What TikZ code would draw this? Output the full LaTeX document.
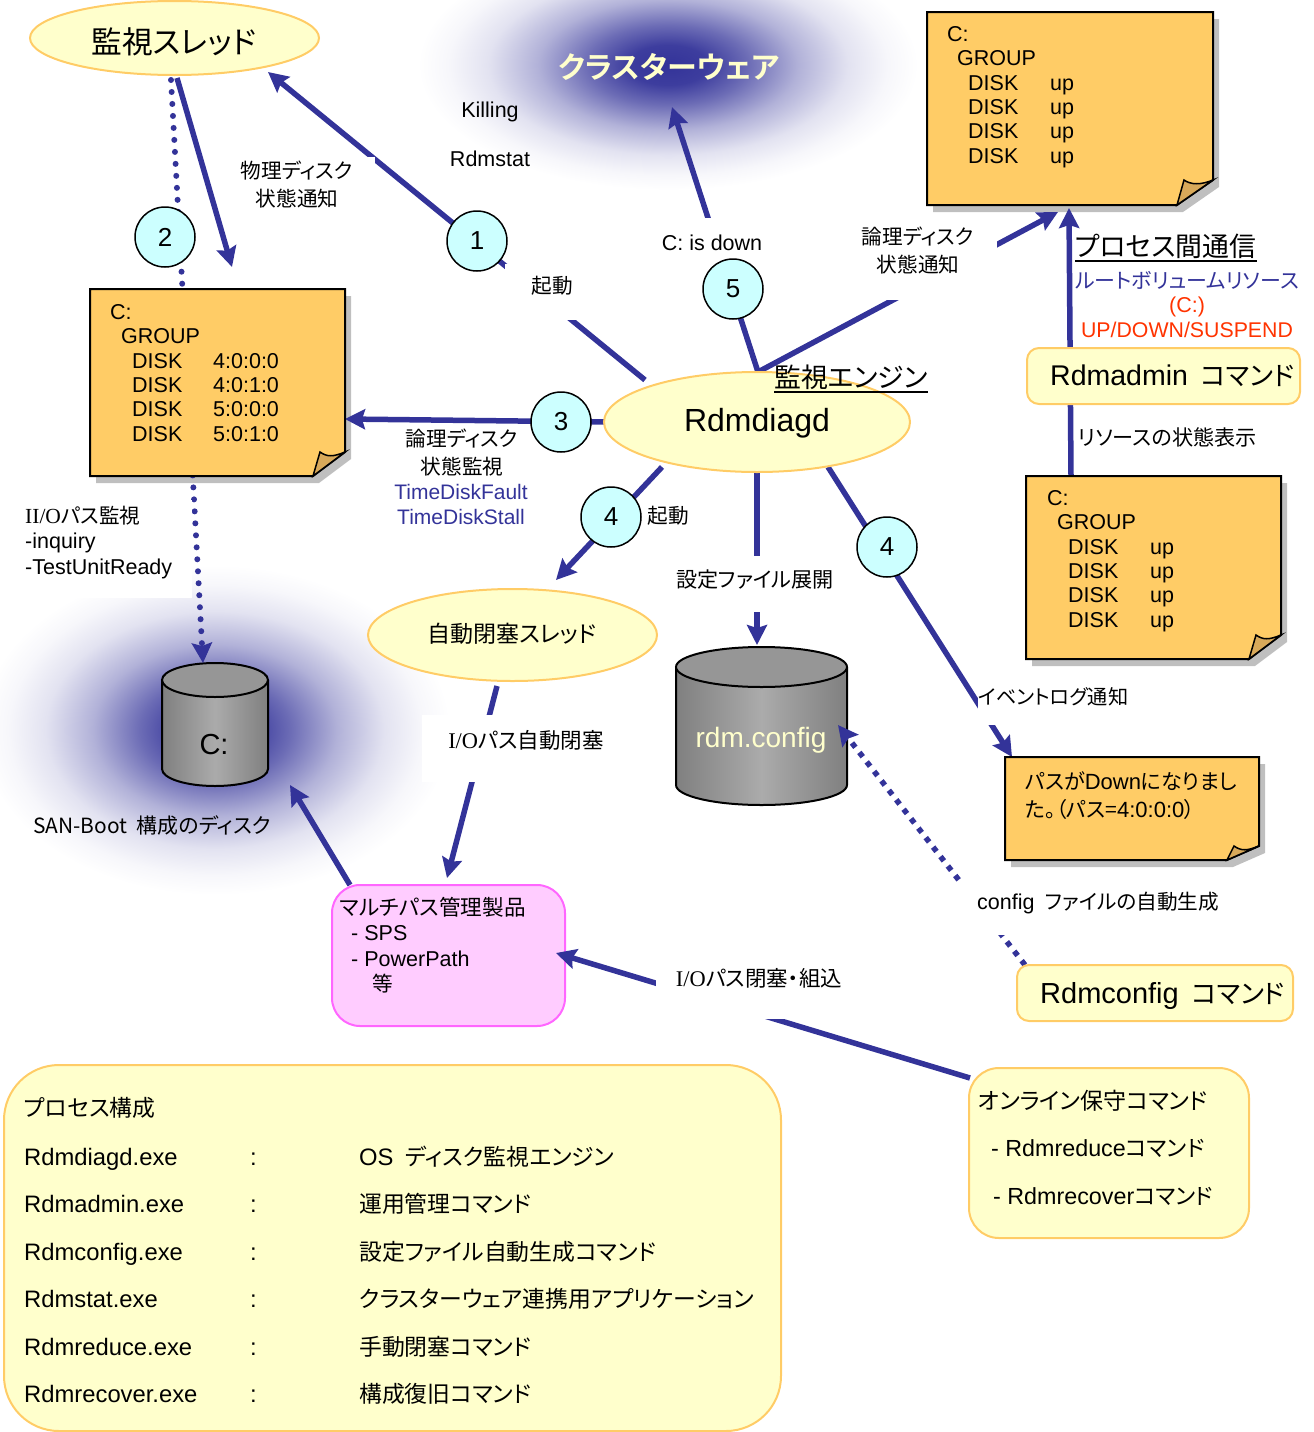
\documentclass[tikz,border=0pt]{standalone}
\usepackage{fontspec}
\setmainfont{Liberation Sans}
\newfontfamily\jp[RawFeature=+palt,Scale=0.96]{Noto Sans CJK JP}
\newfontfamily\jpb[RawFeature=+palt]{Noto Sans CJK JP Bold}
\newfontfamily\ser{Liberation Serif}
\newcommand\J[1]{{\jp #1}}
\newsavebox\ulbox
\newcommand\thickul[1]{\sbox\ulbox{#1}\usebox\ulbox\llap{\rule[-4.8pt]{\wd\ulbox}{2pt}}}
\usetikzlibrary{arrows.meta,shapes.geometric,calc}
\definecolor{arrowblue}{HTML}{333399}
\definecolor{creamfill}{HTML}{FFFFCC}
\definecolor{creamline}{HTML}{FFCC66}
\definecolor{aquafill}{HTML}{CCFFFF}
\definecolor{notefill}{HTML}{FFCC66}
\definecolor{foldfill}{HTML}{D8A95A}
\definecolor{pinkfill}{HTML}{FFCCFF}
\definecolor{pinkline}{HTML}{FF66FF}
\definecolor{redtext}{HTML}{FF3300}
\pgfdeclareradialshading{glowshade}{\pgfpoint{0bp}{0bp}}{
 color(0bp)=(arrowblue); color(4bp)=(arrowblue!95!white); color(8bp)=(arrowblue!72!white);
 color(13bp)=(arrowblue!38!white); color(18bp)=(arrowblue!14!white); color(22bp)=(arrowblue!4!white);
 color(25bp)=(white); color(50bp)=(white)}
\pgfdeclarelayer{glow}\pgfdeclarelayer{conn}\pgfdeclarelayer{cover}
\pgfsetlayers{glow,conn,cover,main}
\tikzset{
 x=1pt,y=-1pt,
 arr/.style={draw=arrowblue,line width=5.5pt,-{Stealth[length=20pt,width=20pt,inset=3pt]}},
 dotarr/.style={draw=arrowblue,line width=6pt,line cap=round,dash pattern=on 0pt off 12pt,-{Stealth[length=20pt,width=20pt,inset=3pt]}},
 sqarr/.style={draw=arrowblue,line width=5.5pt,dash pattern=on 5.5pt off 6.5pt,-{Stealth[length=20pt,width=20pt,inset=3pt]}},
 creamell/.style={ellipse,draw=creamline,fill=creamfill,line width=2pt,inner sep=0pt},
 creambox/.style={rectangle,rounded corners=12pt,draw=creamline,fill=creamfill,line width=2pt,inner sep=0pt},
 numdisc/.style={circle,draw=black,fill=aquafill,line width=1.5pt,minimum size=60pt,inner sep=0pt,font=\fontsize{26}{28}\selectfont},
 lab/.style={inner sep=0pt,align=center,font=\fontsize{21.5}{28}\selectfont},
 llab/.style={inner sep=0pt,anchor=west,align=left,font=\fontsize{21.5}{28}\selectfont},
 notetext/.style={inner sep=0pt,anchor=north west,align=left,font=\fontsize{21.5}{24.4}\selectfont},
 tabrow/.style={inner sep=0pt,anchor=base west,font=\fontsize{23.8}{28}\selectfont},
}
% name, left, top, right, bottom, fold width, fold height
\newcommand\stickynote[7]{
 \begin{pgfonlayer}{glow}
 \fill[black!25] (#2+6,#3+7) -- (#4+6,#3+7) -- (#4+6,#5+7-#7) -- (#4+6-#6,#5+7) -- (#2+6,#5+7) -- cycle;
 \end{pgfonlayer}
 \draw[black,line width=2pt,fill=notefill] (#2,#3) -- (#4,#3) -- (#4,#5-#7) -- (#4-#6,#5) -- (#2,#5) -- cycle;
 \draw[black,line width=1.5pt,fill=foldfill] (#4,#5-#7) .. controls (#4-12,#5-#7+5) and (#4-#6+14,#5-#7+5) .. (#4-#6+7,#5-#7) -- (#4-#6,#5) -- cycle;
 \node[inner sep=0pt,minimum width=#4-#2,minimum height=#5-#3] (#1) at ({(#2+#4)/2},{(#3+#5)/2}) {};
}
% left, top of cylinder; right; bottom; cap half height; name
\newcommand\drum[6]{
 \path[left color=black!50,right color=black!50,middle color=black!33] (#1,#2+#5) -- (#1,#4-#5) arc[start angle=180,end angle=360,x radius={(#3-#1)/2},y radius=-#5] -- (#3,#2+#5) arc[start angle=0,end angle=180,x radius={(#3-#1)/2},y radius=-#5] -- cycle;
 \draw[black,line width=2pt] (#1,#2+#5) -- (#1,#4-#5) arc[start angle=180,end angle=360,x radius={(#3-#1)/2},y radius=-#5] -- (#3,#2+#5);
 \draw[black,line width=2pt,fill=black!41] ({(#1+#3)/2},#2+#5) ellipse[x radius={(#3-#1)/2},y radius=#5];
 \coordinate (#6) at ({(#1+#3)/2},{(#2+#4)/2});
}
\begin{document}
\begin{tikzpicture}
\useasboundingbox (0,0) rectangle (1314,1432);
\clip (0,0) rectangle (1314,1432);
% glows, and the shapes that arrowheads lie upon
\begin{pgfonlayer}{glow}
 \shade[shading=glowshade] (418,-60) rectangle (918,190);
 \shade[shading=glowshade] (-20,565) rectangle (450,895);
 \drum{162}{663}{268}{786}{17}{drumC}
 \drum{676}{647}{847}{805}{20}{drumCfg}
 \node[rectangle,rounded corners=28pt,draw=pinkline,fill=pinkfill,line width=2pt,inner sep=0pt,minimum width=233pt,minimum height=141pt] (multi) at (448.5,955.5) {};
\end{pgfonlayer}
% notes, boxes
\stickynote{noteTop}{927}{12}{1213}{205}{36}{25}
\stickynote{noteLeft}{90}{289}{345}{476}{32}{24}
\stickynote{noteRight}{1026}{476}{1281}{659}{32}{24}
\stickynote{noteEvent}{1005}{757}{1259}{860}{32}{14}
\node[creamell,minimum width=289pt,minimum height=74pt] (mon) at (174.5,38) {};
\node[creamell,minimum width=306pt,minimum height=100pt] (rdm) at (757,422) {};
\node[creamell,minimum width=289pt,minimum height=92pt] (auto) at (512.5,635) {};
\node[creambox,minimum width=273pt,minimum height=56pt] (admin) at (1163.5,376) {};
\node[creambox,minimum width=276pt,minimum height=56pt] (config) at (1155,993) {};
\node[creambox,rounded corners=30pt,minimum width=280pt,minimum height=170pt] (online) at (1109,1153) {};
\node[creambox,rounded corners=55pt,minimum width=777pt,minimum height=366pt] (proc) at (392.5,1248) {};
\node[numdisc] (nTwo) at (165,237) {2};
\node[numdisc] (nOne) at (477,241) {1};
\node[numdisc] (nThree) at (561,422) {3};
\node[numdisc] (nFive) at (733,289) {5};
\node[numdisc] (nFourL) at (611,517) {4};
\node[numdisc] (nFourR) at (887,547) {4};
% connector ends
\coordinate (monDot) at (171,80);
\coordinate (monSolid) at (177,78);
\coordinate (leftTip) at (232,267);
\coordinate (cTip) at (203,663);
\coordinate (monTip) at (268,72);
\coordinate (rdmOne) at (645,380);
\coordinate (rdmThree) at (605,422);
\coordinate (leftNoteTip) at (345,419);
\coordinate (rdmTop) at (758,372);
\coordinate (clusterTip) at (672,107);
\coordinate (topNoteTip) at (1058,212);
\coordinate (topNoteTipB) at (1069,208);
\coordinate (rightNoteTop) at (1071,476);
\coordinate (rdmL) at (662,467);
\coordinate (autoTip) at (556,580);
\coordinate (rdmB) at (757,472);
\coordinate (cfgTip) at (757,645);
\coordinate (rdmR) at (828,467);
\coordinate (eventTip) at (1012,757);
\coordinate (autoB) at (497,686);
\coordinate (multiTip) at (447,878);
\coordinate (multiTop) at (350,885);
\coordinate (drumTip) at (290,785);
\coordinate (onlineEnd) at (970,1078);
\coordinate (multiR) at (556,953);
\coordinate (configEnd) at (1025,965);
\coordinate (cfgSide) at (838,725);
\begin{pgfonlayer}{conn}
 \draw[dotarr] (monDot) -- (cTip);
 \draw[arr] (monSolid) -- (leftTip);
 \draw[arr] (rdmOne) -- (monTip);
 \draw[arr] (rdmThree) -- (leftNoteTip);
 \draw[arr] (rdmTop) -- (clusterTip);
 \draw[arr] (rdmTop) -- (topNoteTip);
 \draw[arr] (rightNoteTop) -- (topNoteTipB);
 \draw[arr] (rdmL) -- (autoTip);
 \draw[arr] (rdmB) -- (cfgTip);
 \draw[arr] (rdmR) -- (eventTip);
 \draw[arr] (autoB) -- (multiTip);
 \draw[arr] (multiTop) -- (drumTip);
 \draw[arr] (onlineEnd) -- (multiR);
 \draw[sqarr] (configEnd) -- (cfgSide);
\end{pgfonlayer}
% white label patches
\begin{pgfonlayer}{cover}
 \fill[white] (235,157) rectangle (375,215);
 \fill[white] (505,264) rectangle (610,320);
 \fill[white] (650,218) rectangle (775,264);
 \fill[white] (850,216) rectangle (997,300);
 \fill[white] (0,500) rectangle (192,598);
 \fill[white] (700,556) rectangle (820,612);
 \fill[white] (978,683) rectangle (1135,725);
 \fill[white] (422,715) rectangle (610,782);
 \fill[white] (960,882) rectangle (1230,935);
 \fill[white] (656,945) rectangle (850,1019);
\end{pgfonlayer}
% labels
\node[lab,font=\fontsize{32}{34}\selectfont] (tMon) at (174,42) {\J{監視スレッド}};
\node[lab,font=\fontsize{30}{34}\selectfont,text=creamfill] (tCluster) at (669,67) {{\jpb クラスターウェア}};
\node[lab] (tKill) at (490,112) {Killing};
\node[lab] (tStat) at (490,159) {Rdmstat};
\node[lab] (tPhys) at (297,185) {\J{物理ディスク}\\\J{状態通知}};
\node[lab] (tStart) at (552,286) {\J{起動}};
\node[lab] (tDown) at (712,243) {C: is down};
\node[lab] (tLogN) at (918,251) {\J{論理ディスク}\\\J{状態通知}};
\node[llab,font=\fontsize{28}{30}\selectfont] (tIpc) at (1075,248) {\thickul{\J{プロセス間通信}}};
\node[llab,font=\fontsize{28}{30}\selectfont] (tEng) at (774,379) {\thickul{\J{監視エンジン}}};
\node[lab,text=arrowblue,font=\fontsize{21.8}{28}\selectfont] (tRoot) at (1187,280) {\J{ルートボリュームリソース}};
\node[lab,text=redtext] (tCc) at (1187,307) {(C:)};
\node[lab,text=redtext,font=\fontsize{21.3}{28}\selectfont] (tUp) at (1187,330) {UP/DOWN/SUSPEND};
\node[llab,font=\fontsize{28.5}{30}\selectfont] (tAdmin) at (1050,376) {Rdmadmin\hspace{13pt}{\fontsize{27.5}{30}\selectfont\J{コマンド}}};
\node[llab,font=\fontsize{22}{28}\selectfont] (tShow) at (1078,437) {\J{リソースの状態表示}};
\node[lab,font=\fontsize{32}{34}\selectfont] (tRdm) at (757,423) {Rdmdiagd};
\node[lab] (tLogW) at (462,452.5) {\J{論理ディスク}\\\J{状態監視}};
\node[lab,text=arrowblue,font=\fontsize{21}{25}\selectfont] (tTime) at (461,504.5) {TimeDiskFault\\TimeDiskStall};
\node[llab,font=\fontsize{21.5}{25.5}\selectfont] (tIO) at (25,542.5) {{\ser II/O}\J{パス監視}\\-inquiry\\-TestUnitReady};
\node[lab] (tStartB) at (668,516) {\J{起動}};
\node[lab,font=\fontsize{22}{28}\selectfont] (tExp) at (755,580) {\J{設定ファイル展開}};
\node[lab,font=\fontsize{24}{26}\selectfont] (tAuto) at (512,634) {\J{自動閉塞スレッド}};
\node[lab,font=\fontsize{22.4}{28}\selectfont] (tBlock) at (526,740) {{\ser I/O}\J{パス自動閉塞}};
\node[lab,font=\fontsize{29}{30}\selectfont] (tC) at (214,745) {C:};
\node[lab,font=\fontsize{28}{30}\selectfont,text=creamfill] (tCfg) at (761,740) {rdm.config};
\node[llab,font=\fontsize{21}{28}\selectfont] (tEvent) at (978,697) {\J{イベントログ通知}};
\node[llab,font=\fontsize{22}{28}\selectfont] (tPathDown) at (1025,796) {\J{パスが}Down\J{になりまし}\\\J{た。（パス=}4:0:0:0\J{）}};
\node[lab,font=\fontsize{21.8}{28}\selectfont] (tSan) at (152,825) {\J{SAN-Boot\ \ 構成のディスク}};
\node[llab] (tGen) at (977,903) {config \J{\ ファイルの自動生成}};
\node[llab,font=\fontsize{29}{30}\selectfont] (tConfig) at (1040,996) {Rdmconfig\hspace{13pt}{\fontsize{27.5}{30}\selectfont\J{コマンド}}};
\node[llab,font=\fontsize{21.5}{25.5}\selectfont] (tMulti) at (340,945) {{\fontsize{22.5}{25.5}\selectfont\J{マルチパス管理製品}}\\\hspace*{11pt}- SPS\\\hspace*{11pt}- PowerPath\\\hspace*{32pt}\J{等}};
\node[lab,font=\fontsize{22.4}{28}\selectfont] (tPath) at (759,978) {{\ser I/O}\J{パス閉塞・組込}};
\node[notetext] (txTop) at (947,26) {C:\\\hspace*{10pt}GROUP\\\hspace*{21pt}\makebox[82pt][l]{DISK}up\\\hspace*{21pt}\makebox[82pt][l]{DISK}up\\\hspace*{21pt}\makebox[82pt][l]{DISK}up\\\hspace*{21pt}\makebox[82pt][l]{DISK}up};
\node[notetext] (txLeft) at (110,304) {C:\\\hspace*{11pt}GROUP\\\hspace*{22pt}\makebox[81pt][l]{DISK}4:0:0:0\\\hspace*{22pt}\makebox[81pt][l]{DISK}4:0:1:0\\\hspace*{22pt}\makebox[81pt][l]{DISK}5:0:0:0\\\hspace*{22pt}\makebox[81pt][l]{DISK}5:0:1:0};
\node[notetext] (txRight) at (1047,490) {C:\\\hspace*{10pt}GROUP\\\hspace*{21pt}\makebox[82pt][l]{DISK}up\\\hspace*{21pt}\makebox[82pt][l]{DISK}up\\\hspace*{21pt}\makebox[82pt][l]{DISK}up\\\hspace*{21pt}\makebox[82pt][l]{DISK}up};
\node[llab,font=\fontsize{24}{28}\selectfont] (tOnA) at (978,1101) {\J{オンライン保守コマンド}};
\node[llab,font=\fontsize{23.3}{28}\selectfont] (tOnB) at (991,1148) {- Rdmreduce\J{コマンド}};
\node[llab,font=\fontsize{23.3}{28}\selectfont] (tOnC) at (993,1196) {- Rdmrecover\J{コマンド}};
% process table
\node[tabrow] (pH) at (24,1116) {\J{プロセス構成}};
\node[tabrow] (pA) at (24,1165) {Rdmdiagd.exe};
\node[tabrow] (pB) at (24,1212) {Rdmadmin.exe};
\node[tabrow] (pC) at (24,1260) {Rdmconfig.exe};
\node[tabrow] (pD) at (24,1307) {Rdmstat.exe};
\node[tabrow] (pE) at (24,1355) {Rdmreduce.exe};
\node[tabrow] (pF) at (24,1402) {Rdmrecover.exe};
\node[tabrow] (cA) at (250,1165) {:};
\node[tabrow] (cB) at (250,1212) {:};
\node[tabrow] (cC) at (250,1260) {:};
\node[tabrow] (cD) at (250,1307) {:};
\node[tabrow] (cE) at (250,1355) {:};
\node[tabrow] (cF) at (250,1402) {:};
\node[tabrow] (dA) at (359,1165) {OS \J{\ ディスク監視エンジン}};
\node[tabrow] (dB) at (359,1212) {\J{運用管理コマンド}};
\node[tabrow] (dC) at (359,1260) {\J{設定ファイル自動生成コマンド}};
\node[tabrow] (dD) at (359,1307) {\J{クラスターウェア連携用アプリケーション}};
\node[tabrow] (dE) at (359,1355) {\J{手動閉塞コマンド}};
\node[tabrow] (dF) at (359,1402) {\J{構成復旧コマンド}};
\end{tikzpicture}
\end{document}
